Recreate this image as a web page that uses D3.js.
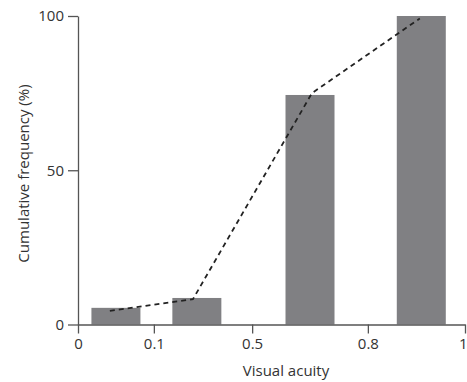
<!DOCTYPE html>
<html>
<head>
<meta charset="utf-8">
<script src="https://cdn.jsdelivr.net/npm/d3@7"></script>
<style>
  body { margin: 0; background: #fff; }
  text { font-family: "Open Sans", sans-serif; fill: #333; }
</style>
</head>
<body>
<div id="chart"></div>
<script>
// Chart size and margins
const width = 467;
const height = 382;
const margin = {left: 78, right: 2, top: 16, bottom: 57.5};

// Data
const xTicks = [0, 0.1, 0.5, 0.8, 1];
const yTicks = [0, 50, 100];
const barCenters = [0.05, 0.275, 0.65, 0.91];
const barValues = [5.4, 8.6, 74.4, 100];
const lineX = [0.042, 0.259, 0.655, 0.907];
const lineY = [4.4, 8.2, 75, 99.2];

// The x axis is not evenly spaced, so each tick gets its own share of the width
const xTickFractions = [0, 0.196, 0.45, 0.749, 1];

const innerW = width - margin.left - margin.right;
const innerH = height - margin.top - margin.bottom;

const svg = d3.select("#chart")
  .append("svg")
  .attr("width", width)
  .attr("height", height);

const xScale = d3.scaleLinear()
  .domain(xTicks)
  .range(xTickFractions.map(f => margin.left + f * innerW));

const yScale = d3.scaleLinear()
  .domain([0, 100])
  .range([height - margin.bottom, margin.top]);

const barWidth = 49;

// bars
svg.selectAll("rect")
  .data(barCenters)
  .enter()
  .append("rect")
  .attr("x", (d) => xScale(d) - barWidth / 2)
  .attr("y", (d, i) => yScale(barValues[i]))
  .attr("width", barWidth)
  .attr("height", (d, i) => yScale(0) - yScale(barValues[i]))
  .attr("fill", "#808083");

// dashed cumulative line
const line = d3.line()
  .x((d) => xScale(d))
  .y((d, i) => yScale(lineY[i]));

svg.append("path")
  .datum(lineX)
  .attr("d", line)
  .attr("fill", "none")
  .attr("stroke", "#222")
  .attr("stroke-width", 1.8)
  .attr("stroke-dasharray", "5,4");

// axes
const yAxis = svg.append("g")
  .attr("transform", `translate(${margin.left},0)`)
  .call(d3.axisLeft(yScale).tickValues(yTicks).tickSize(10).tickSizeOuter(0).tickPadding(4));

const xAxis = svg.append("g")
  .attr("transform", `translate(0,${height - margin.bottom})`)
  .call(d3.axisBottom(xScale).tickValues(xTicks).tickFormat(d3.format("")).tickSize(9).tickSizeOuter(0).tickPadding(5));

[xAxis, yAxis].forEach(g => {
  g.selectAll("path, line").attr("stroke", "#555").attr("stroke-width", 1.3);
  g.selectAll("text").attr("font-size", "15px").attr("fill", "#333")
    .style("font-family", '"Open Sans", sans-serif');
});

// last x label sits at the right edge, so align it to its tick's end
xAxis.selectAll(".tick text")
  .filter((d) => d === 1)
  .attr("text-anchor", "end")
  .attr("dx", 2);

// axis titles
svg.append("text")
  .attr("x", 286)
  .attr("y", 376)
  .attr("text-anchor", "middle")
  .attr("font-size", "15px")
  .text("Visual acuity");

svg.append("text")
  .attr("transform", `translate(29,${173.5}) rotate(-90)`)
  .attr("text-anchor", "middle")
  .attr("font-size", "15px")
  .text("Cumulative frequency (%)");
</script>
</body>
</html>
